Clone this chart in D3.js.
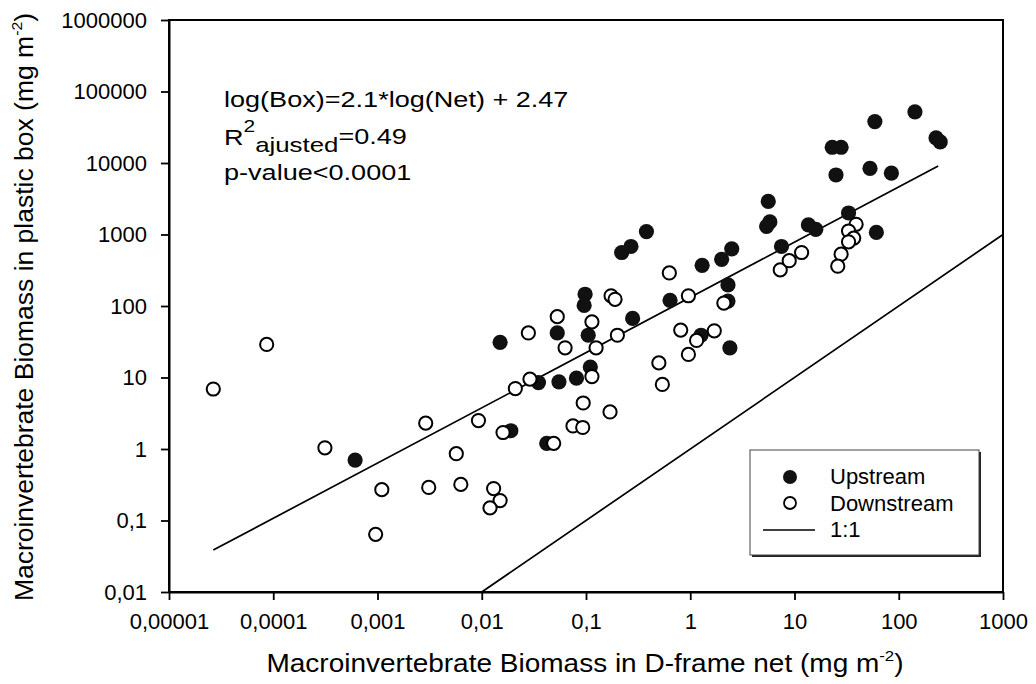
<!DOCTYPE html>
<html>
<head>
<meta charset="utf-8">
<script src="https://cdn.jsdelivr.net/npm/d3@7"></script>
<style>
  html, body { margin: 0; padding: 0; background: #fff; }
  svg { display: block; font-family: "Liberation Sans", Arial, Helvetica, sans-serif; }
</style>
</head>
<body>
<svg id="chart" width="1036" height="684"></svg>
<script>
// Biomass (mg m-2): D-frame net vs plastic box, per sampling site
const upstreamNet = [0.00061, 0.019, 0.042, 0.035, 0.055, 0.081, 0.11, 0.015, 0.053, 0.105,
  0.098, 0.096, 0.28, 0.64, 0.22, 0.27, 0.38, 1.3, 2.0, 2.5,
  2.3, 2.3, 1.27, 2.4, 5.6, 5.8, 5.4, 7.5, 13.6, 16,
  33, 61, 23, 28, 25, 53, 85, 59, 143, 228, 250];
const upstreamBox = [0.7, 1.8, 1.2, 8.5, 8.7, 9.8, 14, 31, 42, 39,
  146, 102, 67, 120, 560, 680, 1100, 370, 450, 630,
  197, 117, 39, 26, 2900, 1500, 1300, 680, 1360, 1180,
  2000, 1070, 16600, 16600, 6800, 8400, 7200, 38000, 52000, 22400, 19700];

const downstreamNet = [0.0000266, 0.0000865, 0.000313, 0.0011, 0.00096, 0.0029, 0.0031, 0.0057, 0.0063, 0.0093,
  0.013, 0.015, 0.012, 0.016, 0.021, 0.029, 0.049, 0.075, 0.093, 0.094,
  0.114, 0.17, 0.063, 0.053, 0.028, 0.114, 0.125, 0.2, 0.174, 0.19,
  0.63, 0.96, 0.81, 1.7, 1.15, 0.96, 0.5, 0.54, 2.1, 7.3,
  8.9, 11.7, 39, 33, 37, 33, 28, 26];
const downstreamBox = [6.9, 29, 1.04, 0.27, 0.064, 2.3, 0.29, 0.86, 0.32, 2.5,
  0.28, 0.19, 0.15, 1.7, 7.0, 9.5, 1.2, 2.1, 2.0, 4.4,
  10.3, 3.3, 26, 71, 42, 60, 26, 39, 139, 124,
  290, 139, 46, 45, 33, 21, 16, 8.0, 110, 320,
  430, 560, 1390, 1120, 890, 790, 530, 360];

// Regression line end points and the 1:1 reference line
const fitNet = [0.0000266, 239];
const fitBox = [0.0386, 9080];
const oneToOneNet = [0.01, 1000];
const oneToOneBox = [0.01, 1000];

const xTickValues = [1e-5, 1e-4, 1e-3, 1e-2, 1e-1, 1, 10, 100, 1000];
const xTickLabels = ["0,00001", "0,0001", "0,001", "0,01", "0,1", "1", "10", "100", "1000"];
const yTickValues = [1e-2, 1e-1, 1, 10, 100, 1000, 1e4, 1e5, 1e6];
const yTickLabels = ["0,01", "0,1", "1", "10", "100", "1000", "10000", "100000", "1000000"];

const legendLabels = ["Upstream", "Downstream", "1:1"];

const svg = d3.select("#chart");
const x = d3.scaleLog().domain([1e-5, 1e3]).range([169, 1003]);
const y = d3.scaleLog().domain([1e-2, 1e6]).range([592, 20]);

// plot frame
svg.append("rect")
  .attr("x", x.range()[0]).attr("y", y.range()[1])
  .attr("width", x.range()[1] - x.range()[0])
  .attr("height", y.range()[0] - y.range()[1])
  .attr("fill", "none").attr("stroke", "#000").attr("stroke-width", 2);

// axes
const xAxis = d3.axisBottom(x).tickValues(xTickValues)
  .tickFormat((d, i) => xTickLabels[i]).tickSize(8).tickSizeOuter(0).tickPadding(13);
const yAxis = d3.axisLeft(y).tickValues(yTickValues)
  .tickFormat((d, i) => yTickLabels[i]).tickSize(8).tickSizeOuter(0).tickPadding(14);

const gx = svg.append("g").attr("transform", `translate(0,${y.range()[0]})`).call(xAxis);
const gy = svg.append("g").attr("transform", `translate(${x.range()[0]},0)`).call(yAxis);
[gx, gy].forEach(g => {
  g.attr("font-family", null).attr("font-size", null);
  g.select(".domain").attr("stroke", "#000").attr("stroke-width", 2);
  g.selectAll(".tick line").attr("stroke", "#000").attr("stroke-width", 1.8);
  g.selectAll(".tick text").attr("fill", "#000").style("font-size", "22px");
});

// lines
const line = d3.line().x(d => x(d[0])).y(d => y(d[1]));
svg.append("path")
  .datum(d3.zip(fitNet, fitBox))
  .attr("d", line).attr("fill", "none").attr("stroke", "#000").attr("stroke-width", 1.7);
svg.append("path")
  .datum(d3.zip(oneToOneNet, oneToOneBox))
  .attr("d", line).attr("fill", "none").attr("stroke", "#000").attr("stroke-width", 1.7);

// points: upstream filled, downstream open on top
svg.append("g").selectAll("circle")
  .data(d3.zip(upstreamNet, upstreamBox)).join("circle")
  .attr("cx", d => x(d[0])).attr("cy", d => y(d[1]))
  .attr("r", 7.6).attr("fill", "#111");
svg.append("g").selectAll("circle")
  .data(d3.zip(downstreamNet, downstreamBox)).join("circle")
  .attr("cx", d => x(d[0])).attr("cy", d => y(d[1]))
  .attr("r", 6.6).attr("fill", "#fff").attr("stroke", "#000").attr("stroke-width", 2);

// text helper with horizontal stretch
function label(tx, ty, sx, rot) {
  return svg.append("g")
    .attr("transform", `translate(${tx},${ty})` + (rot ? ` rotate(${rot})` : "") + ` scale(${sx},1)`)
    .append("text").attr("fill", "#000");
}

// axis titles
const xt = label(585, 672, 1.12, 0).attr("text-anchor", "middle").style("font-size", "25px");
xt.append("tspan").text("Macroinvertebrate Biomass in D-frame net (mg m");
xt.append("tspan").attr("dy", -11).style("font-size", "15px").text("-2");
xt.append("tspan").attr("dy", 11).text(")");

const yt = label(33, 307, 1.06, -90).attr("text-anchor", "middle").style("font-size", "25px");
yt.append("tspan").text("Macroinvertebrate Biomass in plastic box (mg m");
yt.append("tspan").attr("dy", -11).style("font-size", "15px").text("-2");
yt.append("tspan").attr("dy", 11).text(")");

// regression statistics
label(224, 107, 1.23, 0).style("font-size", "22px").text("log(Box)=2.1*log(Net) + 2.47");
const r2 = label(224, 145, 1.23, 0).style("font-size", "22px");
r2.append("tspan").text("R");
r2.append("tspan").attr("dy", -13).style("font-size", "17px").text("2");
r2.append("tspan").attr("dy", 20).style("font-size", "21px").text("ajusted");
r2.append("tspan").attr("dy", -8).text("=0.49");
label(224, 180, 1.23, 0).style("font-size", "22px").text("p-value<0.0001");

// legend
const lg = svg.append("g");
lg.append("rect").attr("x", 752).attr("y", 452).attr("width", 229).attr("height", 105).attr("fill", "#222");
lg.append("rect").attr("x", 750).attr("y", 450).attr("width", 229).attr("height", 105)
  .attr("fill", "#fff").attr("stroke", "#444").attr("stroke-width", 1);
lg.append("circle").attr("cx", 790).attr("cy", 477).attr("r", 7).attr("fill", "#111");
lg.append("circle").attr("cx", 790).attr("cy", 503).attr("r", 6).attr("fill", "#fff")
  .attr("stroke", "#000").attr("stroke-width", 1.8);
lg.append("line").attr("x1", 763).attr("x2", 815).attr("y1", 530).attr("y2", 530)
  .attr("stroke", "#000").attr("stroke-width", 1.5);
legendLabels.forEach((t, i) => {
  lg.append("text").attr("x", 830).attr("y", 484 + i * 26.5)
    .attr("fill", "#000").style("font-size", "22px").text(t);
});
</script>
</body>
</html>
